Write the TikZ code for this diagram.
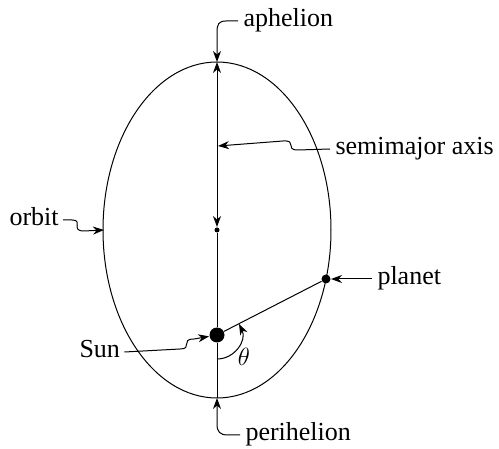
\documentclass[tikz,border=0pt]{standalone}
\usepackage{fontspec}
\setmainfont{Liberation Serif}
\usetikzlibrary{arrows.meta}
\begin{document}
\begin{tikzpicture}[x=1pt,y=-1pt,
  line width=1pt,
  >={Stealth[length=11pt,width=8pt,inset=3.5pt]},
  lbl/.style={inner sep=0pt,font=\fontsize{26}{30}\selectfont,text height=18pt,text depth=6pt},
  dotnode/.style={circle,fill=black,inner sep=0pt,minimum size=#1},
]
\useasboundingbox (0,0) rectangle (499,449);
% orbit
\draw (217,230) ellipse [x radius=114pt, y radius=168pt];
% key points
\coordinate (A) at (217,62);
\coordinate (P) at (217,398);
\node[dotnode=5pt] (C) at (217,230) {};
\node[dotnode=15pt] (S) at (217,335) {};
\node[dotnode=9pt] (Pl) at (326,279) {};
\coordinate (semiTip) at (218,146);
\coordinate (orbitTip) at (104,230);
% axis
\draw[<->] (C) -- (A);
\draw (C) -- (S);
\draw (S) -- (P);
\draw (S) -- (Pl);
% theta arc
\draw[->] (217,359) .. controls (235,359) and (247,340) .. (239,324);
\node[lbl,anchor=center,font=\fontsize{28}{30}\selectfont] (th) at (244,360) {$\theta$};
% labels
\node[lbl,anchor=base west] (aph) at (243,27) {aphelion};
\node[lbl,anchor=base west] (peri) at (245,441) {perihelion};
\node[lbl,anchor=base west] (semi) at (335,155) {semimajor axis};
\node[lbl,anchor=base west] (orb) at (9,226) {orbit};
\node[lbl,anchor=base west] (plan) at (377,285) {planet};
\node[lbl,anchor=base west] (sun) at (79,358) {Sun};
% leaders
\draw[->] ([xshift=-5pt]aph.west) -- (226,21) .. controls (219,21) and (217,24) .. (217,32) -- (A);
\draw[->] ([xshift=-5pt]peri.west) -- (228,435) .. controls (220,435) and (217,432) .. (217,424) -- (P);
\draw[->] ([xshift=-5pt]semi.west) -- (298,150) .. controls (284,150) and (298,140) .. (283,141) -- (semiTip);
\draw[->] ([xshift=4pt]orb.east) -- (72,220) .. controls (84,220) and (70,231) .. (84,231) -- (orbitTip);
\draw[->] ([xshift=-5pt]plan.west) -- (Pl);
\draw[->] ([xshift=4pt]sun.east) -- (180,349) .. controls (193,349) and (180,339) .. (194,339) -- (S);
\end{tikzpicture}
\end{document}
